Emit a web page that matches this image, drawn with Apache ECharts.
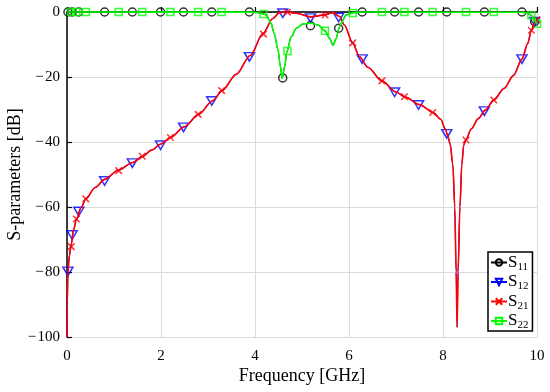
<!DOCTYPE html>
<html><head><meta charset="utf-8">
<script src="https://cdn.jsdelivr.net/npm/echarts@6/dist/echarts.min.js"></script>
<style>html,body{margin:0;padding:0;background:#fff}#c{width:550px;height:392px}</style>
</head><body><div id="c"></div>
<script>
// Shared reflection curve (S11 and S22 overlap)
const reflCurve = [[0,0],[3.9,-0.05],[4.1,-0.3],[4.19,-0.6],[4.24,-0.9],[4.34,-3.5],[4.41,-6.6],[4.49,-11.7],[4.54,-16.8],[4.58,-20.4],[4.63,-16.8],[4.68,-12.2],[4.77,-7.6],[4.88,-5.0],[5.02,-3.7],[5.18,-3.4],[5.34,-4.0],[5.49,-5.8],[5.59,-8.1],[5.66,-10.2],[5.73,-8.1],[5.78,-5.3],[5.83,-3.5],[5.94,-0.9],[6.1,-0.2],[6.3,-0.02],[9.7,-0.1],[9.8,-0.4],[9.88,-1],[9.95,-2.6],[10,-3.6]];
// Shared transmission curve (S12 and S21 overlap)
const transCurve = [[0,-100],[0.004,-90],[0.02,-80],[0.05,-75],[0.09,-71.5],[0.14,-67],[0.2,-63.8],[0.3,-60.2],[0.4,-57.5],[0.6,-54],[0.8,-51.5],[1.1,-48.6],[1.4,-46.3],[1.6,-44.5],[1.8,-42.5],[2.0,-40.6],[2.2,-38.6],[2.5,-35.3],[2.8,-31.5],[3.1,-27.3],[3.3,-24.2],[3.6,-19.2],[3.9,-13.4],[4.17,-6.6],[4.38,-2],[4.52,-0.2],[4.68,0],[4.88,-0.4],[5.18,-1.5],[5.48,-0.9],[5.66,-0.2],[5.8,-1.4],[5.9,-4],[6.08,-9.6],[6.22,-13.7],[6.4,-17],[6.7,-21.2],[7.0,-24.6],[7.2,-26.2],[7.5,-28.5],[7.8,-31],[7.95,-33],[8.05,-36],[8.1,-38],[8.15,-40.5],[8.21,-47],[8.25,-60],[8.28,-80],[8.3,-97],[8.32,-80],[8.36,-60],[8.4,-47],[8.44,-41],[8.49,-39.2],[8.6,-36],[8.75,-32.8],[8.9,-30.2],[9.08,-27.1],[9.3,-23.5],[9.5,-19.5],[9.68,-14.5],[9.8,-9.8],[9.88,-5.7],[9.95,-3.2],[10,-2.4]];

const s11MarkX = [0.02,0.11,0.25,0.8,1.39,1.99,2.48,3.08,3.88,4.59,5.18,5.78,6.28,6.97,7.48,8.08,8.88,9.68,9.95];
const s11MarkY = [0,0,0,0,0,0,0,0,0,-20.3,-4.2,-5,0,0,0,0,0,0,-3];
const s12MarkY = [-79.8,-68.6,-61.4,-52,-46.5,-41,-35.5,-27.4,-13.8,-0.4,-1.9,-1.7,-14.5,-24.7,-28.6,-37.5,-30.5,-14.5,-3];
const s21MarkX = [0.09,0.2,0.4,1.1,1.6,2.2,2.79,3.29,4.18,4.69,5.49,6.08,6.7,7.18,7.78,8.49,9.08,9.88,10];
const s21MarkY = [-72.2,-63.7,-57.5,-48.8,-44.4,-38.6,-31.5,-24.2,-6.8,-0.1,-0.9,-9.5,-21.2,-26.1,-30.9,-39.4,-27.1,-5.6,-2.4];
const s22MarkY = [0,0,0,0,0,0,0,0,-0.6,-12,-5.8,-0.3,0,0,0,0,0,-1,-3.6];

const xTicks = [0,2,4,6,8,10];
const yTicks = [-100,-80,-60,-40,-20,0];
const names = ['S11','S12','S21','S22'];

const FONT = 'Liberation Serif';
const zip = (xs, ys) => xs.map((x,i)=>[x, ys[i]]);
const triDown = 'path://M0,0L10,0L5,8.66Z';
const cross = 'path://M0,0L10,10M10,0L0,10';

function pair(name, curve, marks, color, symbol, size, lw) {
  const common = {
    name, symbol, symbolSize: size,
    itemStyle: {color: 'rgba(0,0,0,0)', borderColor: color, borderWidth: 1.5},
    animation: false, silent: true, clip: false
  };
  return [
    Object.assign({}, common, {type:'line', data: curve, showSymbol:false, smooth:0.3, smoothMonotone:'x',
      lineStyle:{color, width:lw}}),
    Object.assign({}, common, {type:'scatter', data: marks})
  ];
}

const series = [].concat(
  pair('S11', reflCurve, zip(s11MarkX, s11MarkY), '#000000', 'circle', 8, 1.1),
  pair('S12', transCurve, zip(s11MarkX, s12MarkY), '#0000ff', triDown, [10,8.5], 1.1),
  pair('S21', transCurve, zip(s21MarkX, s21MarkY), '#ff0000', cross, 6.5, 1.6),
  pair('S22', reflCurve, zip(s21MarkX, s22MarkY), '#00ff00', 'rect', 7, 1.6)
);

const chart = echarts.init(document.getElementById('c'), null, {renderer:'canvas'});
chart.setOption({
  backgroundColor:'#fff',
  textStyle:{fontFamily:FONT},
  grid:{left:67, right:13, top:12, bottom:55, containLabel:false, outerBoundsMode:'none'},
  xAxis:{type:'value', min:xTicks[0], max:xTicks[xTicks.length-1], interval:2,
    name:'Frequency [GHz]', nameLocation:'middle', nameGap:30, nameMoveOverlap:false,
    nameTextStyle:{fontFamily:FONT, fontSize:18, color:'#000'},
    axisLine:{lineStyle:{color:'#000', width:1.5}},
    axisTick:{inside:true, length:5, lineStyle:{color:'#000', width:1.2}},
    axisLabel:{fontFamily:FONT, fontSize:15, color:'#000', margin:12},
    splitLine:{show:true, lineStyle:{color:'#dadada', width:1}}},
  yAxis:{type:'value', min:yTicks[0], max:yTicks[yTicks.length-1], interval:20,
    name:'S-parameters [dB]', nameLocation:'middle', nameGap:43, nameMoveOverlap:false,
    nameTextStyle:{fontFamily:FONT, fontSize:18, color:'#000'},
    axisLine:{lineStyle:{color:'#000', width:1.5}},
    axisTick:{inside:true, length:5, lineStyle:{color:'#000', width:1.2}},
    axisLabel:{fontFamily:FONT, fontSize:15, color:'#000', margin:7,
      formatter:v=>String(v).replace('-','\u2212\u200a')},
    splitLine:{show:true, lineStyle:{color:'#dadada', width:1}}},
  legend:{data:names, orient:'vertical', left:488, top:252, itemWidth:16, itemHeight:8, itemGap:1,
    backgroundColor:'#fff', borderColor:'#000', borderWidth:1.5, padding:[2,4,0,2],
    formatter:n=>'{s|S}{sub|'+n.slice(1)+'}',
    textStyle:{fontFamily:FONT, color:'#000', padding:[0,0,0,-4],
      rich:{s:{fontFamily:FONT, fontSize:17, color:'#000'}, sub:{fontFamily:FONT, fontSize:11, color:'#000', padding:[9,0,0,0]}}}},
  series
});
</script></body></html>
